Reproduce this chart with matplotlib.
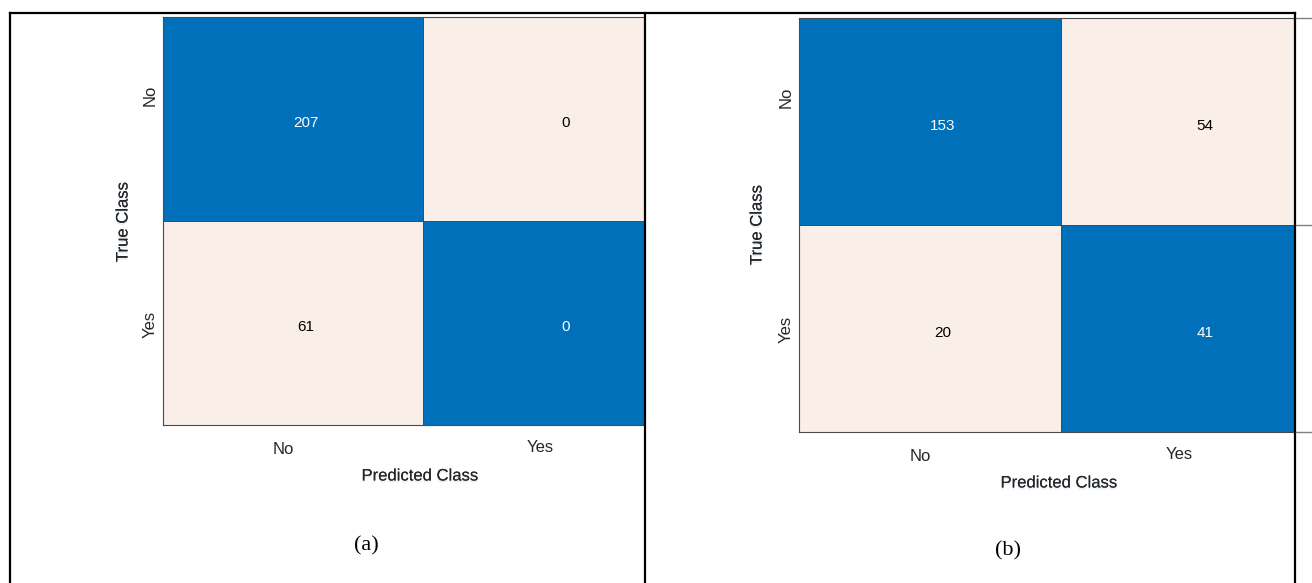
import numpy as np
import matplotlib.pyplot as plt
import matplotlib.patheffects as pe
from matplotlib.colors import ListedColormap
from matplotlib.lines import Line2D
from matplotlib.transforms import ScaledTranslation

# confusion matrices: rows = true class, cols = predicted class
classes = ['No', 'Yes']
cm_a = np.array([[207, 0],
                 [61, 0]])
cm_b = np.array([[153, 54],
                 [20, 41]])

BLUE = '#0070bb'
PALE = '#f9eee8'
EDGE = '#4a4a4a'
TXT = '#262626'

W, H = 1312, 583
plt.rcParams['font.family'] = ['Liberation Sans', 'DejaVu Sans']
fig = plt.figure(figsize=(W / 100, H / 100), dpi=100)


def box(x0, y0, x1, y1):
    # pixel rectangle (top-left origin) -> figure fraction
    return [x0 / W, 1 - y1 / H, (x1 - x0) / W, (y1 - y0) / H]


def ftext(x, y, s, **kw):
    fig.text(x / W, 1 - y / H, s, ha='center', va='center', **kw)


def shift(lbl, dx, dy):
    lbl.set_transform(lbl.get_transform() + ScaledTranslation(dx / 100, dy / 100, fig.dpi_scale_trans))


glow = [pe.withSimplePatchShadow(offset=(0, -1.5), shadow_rgbFace='#a9cbee', alpha=0.3), pe.Normal()]


def draw_matrix(rect, cm, cell_w):
    ax = fig.add_axes(box(*rect))
    n = len(classes)
    edges = np.arange(n + 1) - 0.5
    ax.pcolormesh(edges, edges, np.eye(n), cmap=ListedColormap([PALE, BLUE]),
                  edgecolors=EDGE, linewidth=0.5)
    # right-hand column is cut off by the panel border
    ax.set_xlim(-0.5, -0.5 + (rect[2] - rect[0]) / cell_w)
    ax.set_ylim(n - 0.5, -0.5)
    for i in range(n):
        for j in range(n):
            ax.text(j + 0.05, i + 0.02, str(cm[i, j]), ha='center', va='center', fontsize=11,
                    color='white' if i == j else 'black')
    ax.set_xticks(range(n), classes)
    ax.set_yticks(range(n), classes, rotation=90, va='center')
    ax.tick_params(axis='x', length=0, labelsize=12, labelcolor=TXT, pad=12)
    ax.tick_params(axis='y', length=0, labelsize=12, labelcolor=TXT, pad=4)
    for lbl, (dx, dy) in zip(ax.get_xticklabels(), [(-10, 0), (-13, 2)]):
        shift(lbl, dx, dy)
    for lbl, (dx, dy) in zip(ax.get_yticklabels(), [(0, 24), (0, -1)]):
        shift(lbl, dx, dy)
    for side in ['top', 'bottom', 'left']:
        ax.spines[side].set_color(EDGE)
        ax.spines[side].set_linewidth(0.8)
    ax.spines['right'].set_visible(False)
    return ax


draw_matrix((163, 17, 644, 425), cm_a, 260)
draw_matrix((799, 18, 1294, 432), cm_b, 262)

# axis titles and panel captions
ftext(123, 222, 'True Class', rotation=90, fontsize=12, color=TXT, path_effects=glow)
ftext(420, 476, 'Predicted Class', fontsize=12, color=TXT, path_effects=glow)
ftext(757, 225, 'True Class', rotation=90, fontsize=12, color=TXT, path_effects=glow)
ftext(1059, 483, 'Predicted Class', fontsize=12, color=TXT, path_effects=glow)
ftext(366, 546, '(a)', fontsize=16, family='Liberation Serif', color='black')
ftext(1008, 551, '(b)', fontsize=16, family='Liberation Serif', color='black')

# table frame around the two panels
frame = [((10, 13), (1295, 13)), ((10, 13), (10, 583)),
         ((645, 13), (645, 583)), ((1295, 13), (1295, 583))]
for (x0, y0), (x1, y1) in frame:
    fig.add_artist(Line2D([x0 / W, x1 / W], [1 - y0 / H, 1 - y1 / H],
                          transform=fig.transFigure, color='black', lw=1.6))
# grid lines of the next panel peeking past the right border
for y in (18, 225, 432):
    fig.add_artist(Line2D([1296 / W, 1], [1 - y / H] * 2, transform=fig.transFigure,
                          color='#808080', lw=1))

fig.savefig('out.png', dpi=100)
